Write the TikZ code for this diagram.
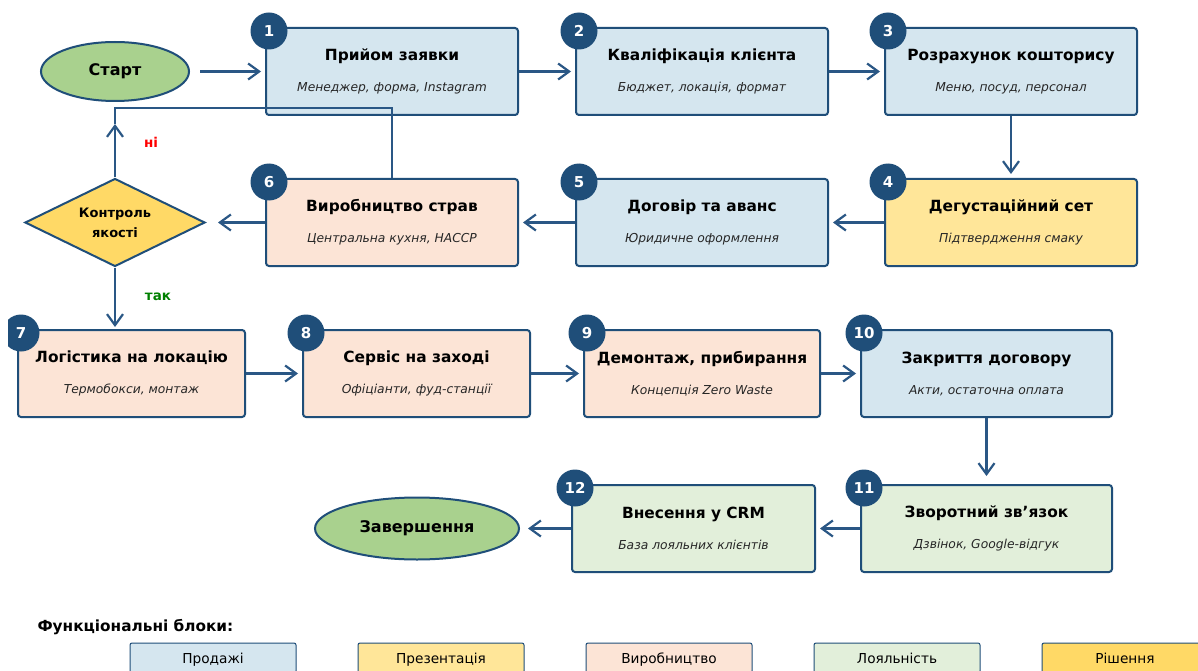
\documentclass[tikz,border=0pt]{standalone}
\usepackage{fontspec}
\setmainfont{DejaVu Sans}
\usepackage{tikz}
\usetikzlibrary{arrows.meta,shapes.geometric,calc}

\definecolor{edgeblue}{HTML}{1F4E79}
\definecolor{arrowblue}{HTML}{2A5785}
\definecolor{salesfill}{HTML}{D5E6EF}
\definecolor{presfill}{HTML}{FFE699}
\definecolor{prodfill}{HTML}{FCE4D6}
\definecolor{loyalfill}{HTML}{E2EFDA}
\definecolor{decfill}{HTML}{FFD966}
\definecolor{termfill}{HTML}{A9D18E}
\definecolor{yesgreen}{HTML}{008000}

\tikzset{
  stepbox/.style={draw=edgeblue, line width=2pt, rounded corners=3pt, minimum height=87pt,
    inner sep=0pt, align=center, font=\bfseries\fontsize{15.4}{17}\selectfont,
    execute at begin node=\rule{0pt}{17pt}},
  badge/.style={circle, fill=edgeblue, minimum size=37pt, inner sep=0pt, text=white,
    font=\bfseries\fontsize{15}{16}\selectfont},
  terminal/.style={ellipse, draw=edgeblue, line width=2pt, fill=termfill, inner sep=0pt,
    font=\bfseries\fontsize{16}{18}\selectfont},
  decision/.style={diamond, aspect=2.05, draw=edgeblue, line width=2pt, fill=decfill, inner sep=0pt,
    minimum width=180pt, minimum height=88pt, align=center,
    font=\bfseries\fontsize{13}{20}\selectfont},
  flow/.style={draw=arrowblue, line width=2.2pt, shorten >=4pt,
    -{Straight Barb[length=11pt,width=16pt]}},
  loopline/.style={draw=arrowblue, line width=2pt},
  legbox/.style={draw=edgeblue, line width=1pt, rounded corners=2pt, minimum width=166pt,
    minimum height=30pt, inner sep=0pt, text height=10pt, text depth=0pt,
    font=\fontsize{13.7}{15}\selectfont},
}
\newcommand{\subline}[1]{{\mdseries\itshape\fontsize{12.3}{14}\selectfont\color{black!85}#1}}

\begin{document}
\begin{tikzpicture}[x=1pt,y=-1pt]
  \useasboundingbox (0,0) rectangle (1198,671);
  \fill[white] (0,0) rectangle (1198,671);
  \clip (8,0) rectangle (1198,671);

  % Start
  \node[terminal, minimum width=148pt, minimum height=59pt] (start) at (115,71.5) {Старт};

  % Row 1
  \node[stepbox, fill=salesfill, minimum width=252pt] (b1) at (392,71.5)
    {Прийом заявки\\[14pt]\subline{Менеджер, форма, Instagram}};
  \node[stepbox, fill=salesfill, minimum width=252pt] (b2) at (702,71.5)
    {Кваліфікація клієнта\\[14pt]\subline{Бюджет, локація, формат}};
  \node[stepbox, fill=salesfill, minimum width=252pt] (b3) at (1011,71.5)
    {Розрахунок кошторису\\[14pt]\subline{Меню, посуд, персонал}};

  % Row 2
  \node[stepbox, fill=presfill, minimum width=252pt] (b4) at (1011,222.5)
    {Дегустаційний сет\\[14pt]\subline{Підтвердження смаку}};
  \node[stepbox, fill=salesfill, minimum width=252pt] (b5) at (702,222.5)
    {Договір та аванс\\[14pt]\subline{Юридичне оформлення}};
  \node[stepbox, fill=prodfill, minimum width=252pt] (b6) at (392,222.5)
    {Виробництво страв\\[14pt]\subline{Центральна кухня, HACCP}};

  % Quality check
  \node[decision] (dq) at (115,222.5) {Контроль\\якості};

  % Row 3
  \node[stepbox, fill=prodfill, minimum width=227pt] (b7) at (131.5,373.5)
    {Логістика на локацію\\[14pt]\subline{Термобокси, монтаж}};
  \node[stepbox, fill=prodfill, minimum width=227pt] (b8) at (416.5,373.5)
    {Сервіс на заході\\[14pt]\subline{Офіціанти, фуд-станції}};
  \node[stepbox, fill=prodfill, minimum width=236pt] (b9) at (702,373.5)
    {Демонтаж, прибирання\\[14pt]\subline{Концепція Zero Waste}};
  \node[stepbox, fill=salesfill, minimum width=251pt] (b10) at (986.5,373.5)
    {Закриття договору\\[14pt]\subline{Акти, остаточна оплата}};

  % Row 4
  \node[stepbox, fill=loyalfill, minimum width=251pt] (b11) at (986.5,528.5)
    {Зворотний зв’язок\\[14pt]\subline{Дзвінок, Google-відгук}};
  \node[stepbox, fill=loyalfill, minimum width=243pt] (b12) at (693.5,528.5)
    {Внесення у CRM\\[14pt]\subline{База лояльних клієнтів}};

  % Finish
  \node[terminal, minimum width=204pt, minimum height=62pt] (finish) at (417,528.5) {Завершення};

  % Step numbers
  \foreach \b/\n in {b1/1,b2/2,b3/3,b4/4,b5/5,b6/6,b7/7,b8/8,b9/9,b10/10,b11/11,b12/12} {
    \node[badge] (n\n) at ([shift={(4,4)}]\b.north west) {\n};
  }

  % Main flow
  \draw[flow, shorten <=10pt] (start) -- (b1);
  \draw[flow] (b1) -- (b2);
  \draw[flow] (b2) -- (b3);
  \draw[flow] (b3) -- (b4);
  \draw[flow] (b4) -- (b5);
  \draw[flow] (b5) -- (b6);
  \draw[flow, shorten >=12pt] (b6) -- (dq);

  % Return loop (no)
  \coordinate (nocorner) at (115,108);
  \coordinate (nojoin) at (115,124);
  \draw[flow, shorten >=0pt] (dq.north) -- (nojoin);
  \draw[loopline] (b6.north) |- (nocorner) -- (nojoin);
  \node[text=red, font=\bfseries\fontsize{13.5}{15}\selectfont] (nolabel) at (151,142) {ні};

  % Yes branch
  \draw[flow, shorten >=2pt] (dq.south) -- (dq.south |- b7.north);
  \node[text=yesgreen, font=\bfseries\fontsize{13.5}{15}\selectfont] (yeslabel) at (158,297) {так};

  \draw[flow] (b7) -- (b8);
  \draw[flow] (b8) -- (b9);
  \draw[flow] (b9) -- (b10);
  \draw[flow, shorten >=8pt] (b10) -- (b11);
  \draw[flow] (b11) -- (b12);
  \draw[flow, shorten >=8pt] (b12) -- (finish);

  % Legend
  \node[anchor=west, font=\bfseries\fontsize{15.3}{17}\selectfont] (legtitle) at (34,627) {Функціональні блоки:};
  \node[legbox, fill=salesfill] (lsales) at (213,658) {Продажі};
  \node[legbox, fill=presfill] (lpres) at (441,658) {Презентація};
  \node[legbox, fill=prodfill] (lprod) at (669,658) {Виробництво};
  \node[legbox, fill=loyalfill] (lloyal) at (897,658) {Лояльність};
  \node[legbox, fill=decfill] (ldec) at (1125,658) {Рішення};
\end{tikzpicture}
\end{document}
